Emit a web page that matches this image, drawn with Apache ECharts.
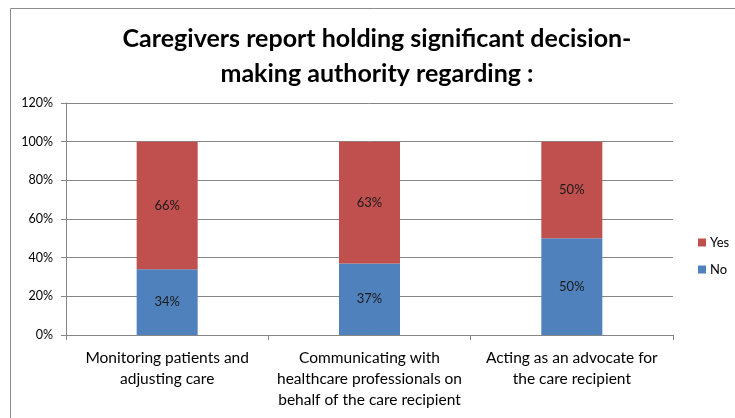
<!DOCTYPE html>
<html><head><meta charset="utf-8">
<script src="https://cdn.jsdelivr.net/npm/echarts@6/dist/echarts.min.js"></script>
<style>html,body{margin:0;padding:0;background:#fff}#c{width:735px;height:418px}</style>
</head><body><div id="c"></div>
<script>
const titleText = 'Caregivers report holding significant decision-\nmaking authority regarding :';
const categories = ['Monitoring patients and\nadjusting care', 'Communicating with\nhealthcare professionals on\nbehalf of the care recipient', 'Acting as an advocate for\nthe care recipient'];
const noValues = [34, 37, 50];
const yesValues = [66, 63, 50];
const yTicks = [0, 20, 40, 60, 80, 100, 120];

const chart = echarts.init(document.getElementById('c'));
const font = 'Lato, "Open Sans", sans-serif';
chart.setOption({
  animation: false,
  graphic: [{type:'rect', shape:{x:10.5,y:8.5,width:800,height:500}, style:{fill:'none',stroke:'#8c8c8c',lineWidth:1}, silent:true}],
  title: {text: titleText, left: 372, top: 16, textAlign: 'center',
    textStyle: {fontFamily: font, fontWeight: 'bold', fontSize: 25, color: '#000', lineHeight: 35}},
  legend: {orient: 'vertical', left: 693, top: 231, itemWidth: 8, itemHeight: 8, itemGap: 14,
    icon: 'rect', data: ['Yes', 'No'],
    textStyle: {fontFamily: font, fontSize: 13, color: '#000', padding: [0,0,0,-1]}},
  grid: {left: 66, right: 62, top: 103, bottom: 83, containLabel: false},
  xAxis: {type: 'category', data: categories,
    axisLine: {lineStyle: {color: '#868686'}},
    axisTick: {show: true, length: 5, lineStyle: {color: '#868686'}},
    axisLabel: {fontFamily: font, fontSize: 15.5, color: '#000', lineHeight: 21, margin: 12, interval: 0}},
  yAxis: {type: 'value', min: 0, max: yTicks[yTicks.length-1], interval: 20,
    axisLine: {show: true, lineStyle: {color: '#868686'}},
    axisTick: {show: true, length: 5, lineStyle: {color: '#868686'}},
    splitLine: {lineStyle: {color: '#868686'}},
    axisLabel: {formatter: '{value}%', fontFamily: font, fontSize: 12.5, color: '#000', margin: 13}},
  series: [
    {name: 'No', type: 'bar', stack: 'a', data: noValues, barWidth: 61,
     itemStyle: {color: '#4F81BD'},
     label: {show: true, position: 'inside', formatter: '{c}%', fontFamily: font, fontSize: 13, color: '#1a1a1a'}},
    {name: 'Yes', type: 'bar', stack: 'a', data: yesValues, barWidth: 61,
     itemStyle: {color: '#C0504D'},
     label: {show: true, position: 'inside', formatter: '{c}%', fontFamily: font, fontSize: 13, color: '#1a1a1a'}}
  ]
});
</script></body></html>
